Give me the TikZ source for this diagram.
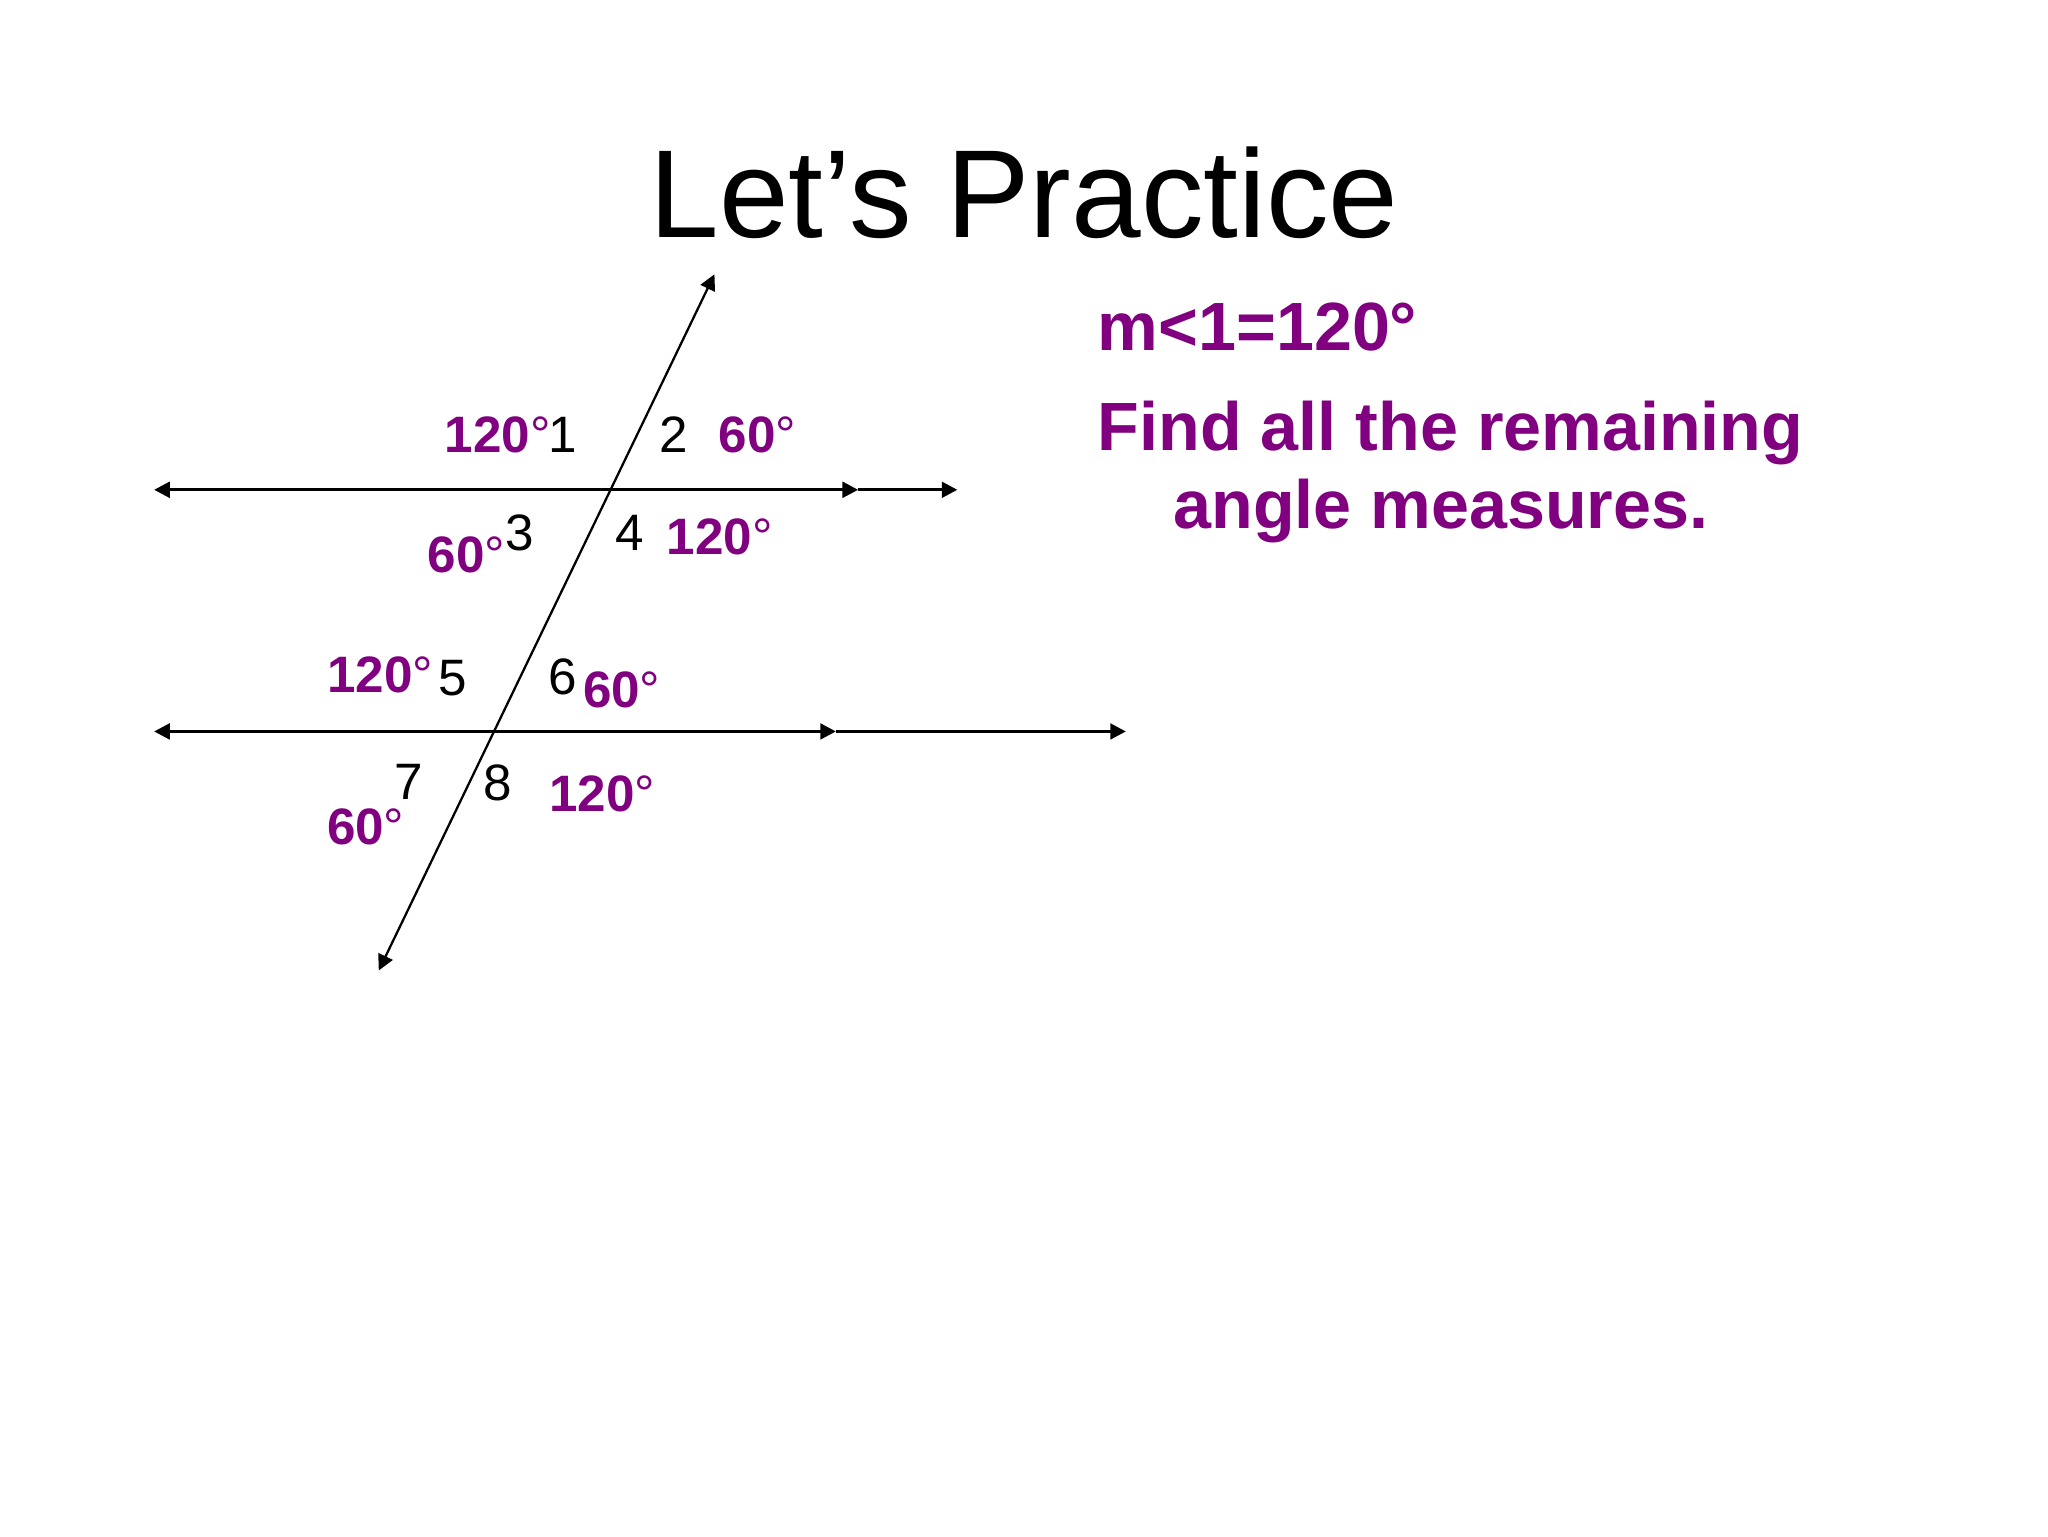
\documentclass[tikz,border=0pt]{standalone}
\usepackage{fontspec}
\setmainfont{Liberation Sans}
\usetikzlibrary{arrows.meta}
\definecolor{angpurple}{RGB}{128,0,128}
\newcommand{\degr}{{\mdseries °}}
\begin{document}
\begin{tikzpicture}[x=0.4592pt,y=-0.4592pt,>={Triangle[length=5.5pt,width=5.5pt]}]
    \tikzstyle{num}=[inner sep=0pt, font=\fontsize{18}{20}\selectfont]
    \tikzstyle{deg}=[inner sep=0pt, text=angpurple, font=\fontsize{18}{20}\selectfont\bfseries]
    \tikzstyle{hline}=[line width=1.1pt]
    \tikzstyle{trans}=[line width=0.8pt]
    \tikzstyle{task}=[inner sep=0pt, anchor=base west, text=angpurple, font=\fontsize{24}{27}\selectfont\bfseries]
    \fill[white] (0,0) rectangle (1568,1176);
    \useasboundingbox (0,0) rectangle (1568,1176);
    \node[anchor=base, font=\fontsize{44}{50}\selectfont] (title) at (784,182) {Let’s Practice};
    % parallel lines and transversal
    \coordinate (l1) at (118,375);
    \coordinate (m1) at (657,375);
    \coordinate (r1) at (733,375);
    \coordinate (l2) at (118,560);
    \coordinate (m2) at (640,560);
    \coordinate (r2) at (862,560);
    \coordinate (tb) at (290,743);
    \coordinate (tt) at (547,210);
    \draw[hline,<->] (l1) -- (m1);
    \draw[hline,->] (m1) -- (r1);
    \draw[hline,<->] (l2) -- (m2);
    \draw[hline,->] (m2) -- (r2);
    \draw[trans,<->] (tb) -- (tt);
    % angle numbers
    \node[num] (n1) at (431,333) {1};
    \node[num] (n2) at (516,333) {2};
    \node[num] (n3) at (398,408) {3};
    \node[num] (n4) at (482,408) {4};
    \node[num] (n5) at (347,519) {5};
    \node[num] (n6) at (431,518) {6};
    \node[num] (n7) at (313,599) {7};
    \node[num] (n8) at (381,599) {8};
    % angle measures
    \node[deg] (d1) at (381,333) {120\degr};
    \node[deg] (d2) at (580,333) {60\degr};
    \node[deg] (d3) at (357,425) {60\degr};
    \node[deg] (d4) at (551,411) {120\degr};
    \node[deg] (d5) at (291,517) {120\degr};
    \node[deg] (d6) at (476,528) {60\degr};
    \node[deg] (d7) at (280,633) {60\degr};
    \node[deg] (d8) at (461,608) {120\degr};
    \node[task] (given) at (840,268) {m<1=120°};
    \node[task] (find1) at (840,345) {Find all the remaining};
    \node[task] (find2) at (898,405) {angle measures.};
  \end{tikzpicture}
\end{document}
